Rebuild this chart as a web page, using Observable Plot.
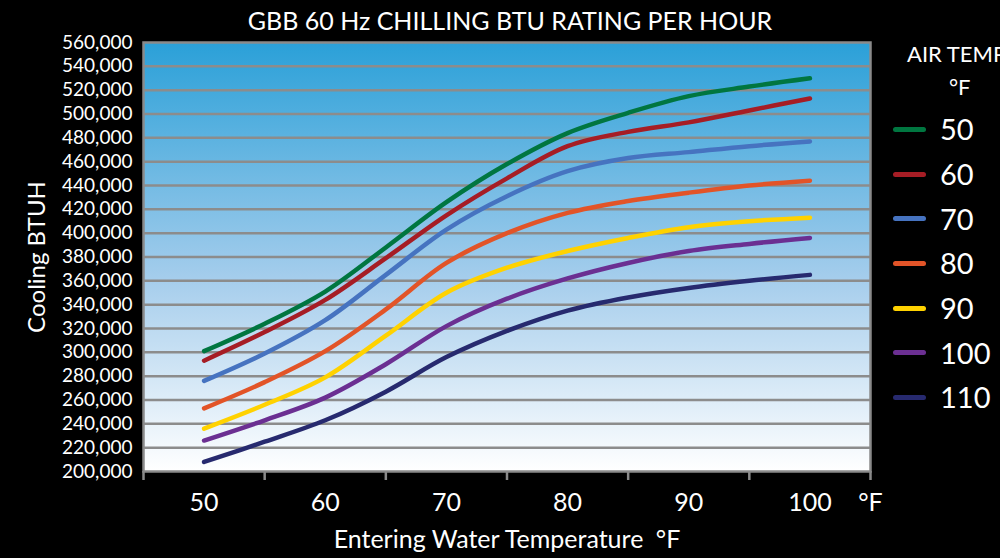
<!DOCTYPE html>
<html>
<head>
<meta charset="utf-8">
<script src="https://cdn.jsdelivr.net/npm/d3@7"></script>
<script src="https://cdn.jsdelivr.net/npm/@observablehq/plot@0.6"></script>
<style>
  html, body { margin: 0; padding: 0; background: #000; }
  #wrap { position: relative; width: 1000px; height: 558px; background: #000; overflow: hidden; font-family: Lato, "Noto Sans", sans-serif; color: #fff; }
  #title { position: absolute; left: 0; width: 1020px; top: 5px; text-align: center; font-size: 25px; white-space: nowrap; }
  #chart { position: absolute; left: 0; top: 0; }
  #legend { position: absolute; left: 893px; top: 39px; width: 140px; }
  #legend .hdr { font-size: 22px; white-space: nowrap; margin-left: 14px; line-height: 30px; }
  #legend .unit { font-size: 22px; margin-left: 56px; line-height: 30px; margin-top: 3px; }
  #legend .row { height: 44.7px; display: flex; align-items: center; }
  #legend .sw { width: 33px; height: 5px; border-radius: 3px; margin-right: 14px; }
  #legend .lab { font-size: 29px; line-height: 30px; }
</style>
</head>
<body>
<div id="wrap">
  <div id="title"></div>
  <div id="chart"></div>
  <div id="legend"></div>
</div>
<script>
const titleText = "GBB 60 Hz CHILLING BTU RATING PER HOUR";
const legendTitle = "AIR TEMP";
const legendUnit = "°F";
const yLabel = "Cooling BTUH";
const xLabel = "Entering Water Temperature\u2002°F";

const waterTemps = [50, 55, 60, 65, 70, 75, 80, 85, 90, 95, 100];
const airTemps = ["50", "60", "70", "80", "90", "100", "110"];
const colors = ["#007640", "#a61d25", "#4673c0", "#e25428", "#ffd200", "#6b2f92", "#272a6f"];

const btuAir50  = [301000, 324000, 351000, 388000, 426000, 458000, 484000, 501000, 515000, 523000, 530000];
const btuAir60  = [293000, 317000, 344000, 379000, 415000, 446000, 473000, 485000, 493000, 503000, 513000];
const btuAir70  = [276000, 299000, 327000, 365000, 403000, 431000, 452000, 463000, 468000, 473000, 477000];
const btuAir80  = [253000, 275000, 301000, 336000, 375000, 400000, 417000, 427000, 434000, 440000, 444000];
const btuAir90  = [236000, 256000, 279000, 314000, 350000, 371000, 385000, 396000, 405000, 410000, 413000];
const btuAir100 = [226000, 243000, 262000, 290000, 322000, 345000, 362000, 375000, 385000, 391000, 396000];
const btuAir110 = [208000, 225000, 243000, 267000, 296000, 318000, 335000, 346000, 354000, 360000, 365000];

const yTicks = [200000, 220000, 240000, 260000, 280000, 300000, 320000, 340000, 360000, 380000, 400000, 420000, 440000, 460000, 480000, 500000, 520000, 540000, 560000];
const xTickMarks = [45, 55, 65, 75, 85, 95, 105];
const xTickLabels = [50, 60, 70, 80, 90, 100, 105];
const xDomain = [45, 105];
const yDomain = [200000, 560000];

const seriesValues = [btuAir50, btuAir60, btuAir70, btuAir80, btuAir90, btuAir100, btuAir110];
const table = [];
airTemps.forEach((s, i) => {
  seriesValues[i].forEach((v, j) => table.push({series: s, x: waterTemps[j], y: v}));
});

document.getElementById("title").textContent = titleText;

const chart = Plot.plot({
  width: 1000,
  height: 558,
  marginLeft: 143,
  marginRight: 130,
  marginTop: 42,
  marginBottom: 87,
  style: {background: "transparent", color: "white", fontFamily: "Lato, 'Noto Sans', sans-serif", fontSize: "17px"},
  x: {domain: xDomain},
  y: {domain: yDomain},
  color: {domain: airTemps, range: colors},
  marks: [
    Plot.frame({fill: "url(#bgGrad)", stroke: "none"}),
    Plot.ruleY(yTicks.slice(1, -1), {stroke: "#8c8c8c", strokeWidth: 2.5}),
    Plot.frame({stroke: "#8a8a8a", strokeWidth: 2.5}),
    Plot.axisX({ticks: xTickMarks, tickFormat: () => "", tickSize: 9, stroke: "#8a8a8a", strokeWidth: 2.5, label: null}),
    Plot.axisX({ticks: xTickLabels, tickFormat: d => d === 105 ? "°F" : String(d), tickSize: 0, tickPadding: 22, fontSize: 25, fill: "white", label: null}),
    Plot.axisY({ticks: yTicks, tickFormat: d3.format(","), tickSize: 0, tickPadding: 11, fontSize: 19, fill: "white", label: null}),
    Plot.text([yLabel], {frameAnchor: "left", textAnchor: "middle", dx: -106, rotate: -90, fontSize: 24, fill: "white"}),
    Plot.text([xLabel], {frameAnchor: "bottom", textAnchor: "middle", dy: 76, fontSize: 25, fill: "white"}),
    Plot.line(table, {x: "x", y: "y", z: "series", stroke: "series", curve: "catmull-rom", strokeWidth: 4.5, strokeLinecap: "round", strokeLinejoin: "round"})
  ]
});

const svg = d3.select(chart);
const defs = svg.insert("defs", ":first-child");
const grad = defs.append("linearGradient").attr("id", "bgGrad").attr("x1", 0).attr("y1", 0).attr("x2", 0).attr("y2", 1);
grad.append("stop").attr("offset", "0%").attr("stop-color", "#2aa0d8");
grad.append("stop").attr("offset", "55%").attr("stop-color", "#a5cdec");
grad.append("stop").attr("offset", "100%").attr("stop-color", "#ffffff");
document.getElementById("chart").appendChild(chart);

const legend = d3.select("#legend");
legend.append("div").attr("class", "hdr").text(legendTitle);
legend.append("div").attr("class", "unit").text(legendUnit);
legend.append("div").style("height", "5px");
airTemps.forEach((s, i) => {
  const row = legend.append("div").attr("class", "row");
  row.append("div").attr("class", "sw").style("background", colors[i]);
  row.append("div").attr("class", "lab").text(s);
});
</script>
</body>
</html>
